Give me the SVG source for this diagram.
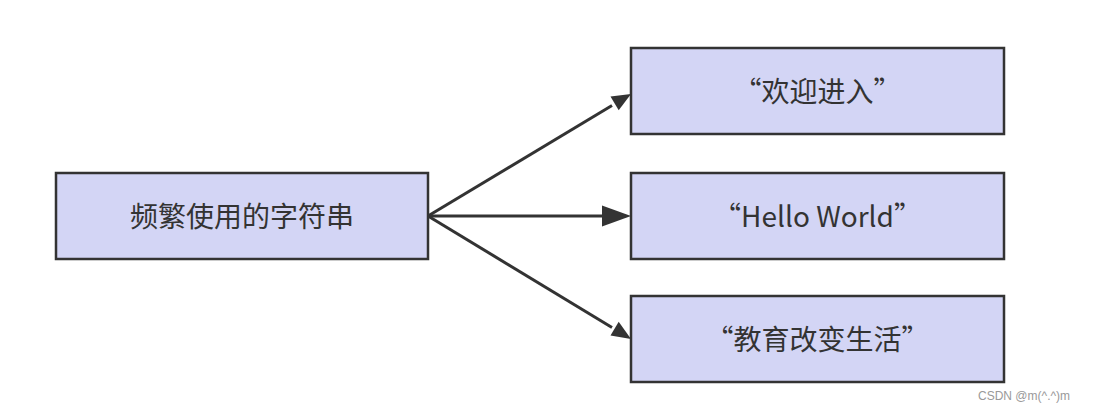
<svg xmlns="http://www.w3.org/2000/svg" width="1103" height="413" viewBox="0 0 1103 413">
<style>
.box{fill:#d3d5f5;stroke:#333;stroke-width:2.5}
.lbl{font-family:"Noto Sans CJK SC","Noto Sans",sans-serif;font-size:28px;fill:#333;text-anchor:middle;dominant-baseline:central}
.edge{stroke:#333;stroke-width:3;fill:none}
.head{fill:#333}
.wm{font-family:"Liberation Sans","Noto Sans CJK SC",sans-serif;font-size:12px;fill:#999}
</style>
<g id="connectors">
<path class="edge" d="M428,216 L612,105.5"/>
<path class="head" d="M631,94 L610.5,96.5 L618.7,110.2 z"/>
<path class="edge" d="M428,216 L612,216"/>
<path class="head" d="M631,216 L602,205.5 L602,226.5 z"/>
<path class="edge" d="M428,216 L612,327.5"/>
<path class="head" d="M631,339 L618.7,321.8 L610.5,335.5 z"/>
</g>
<g id="n0">
<rect class="box" x="56" y="173" width="372" height="86"/>
<text class="lbl" x="242" y="215">频繁使用的字符串</text>
</g>
<g id="n1">
<rect class="box" x="631" y="48" width="373" height="86"/>
<text class="lbl" x="817.5" y="90">“欢迎进入”</text>
</g>
<g id="n2">
<rect class="box" x="631" y="173" width="373" height="86"/>
<text class="lbl" x="817.5" y="215">“Hello World”</text>
</g>
<g id="n3">
<rect class="box" x="631" y="296" width="373" height="86"/>
<text class="lbl" x="817.5" y="338">“教育改变生活”</text>
</g>
<text class="wm" x="978" y="400">CSDN @m(^.^)m</text>
</svg>
